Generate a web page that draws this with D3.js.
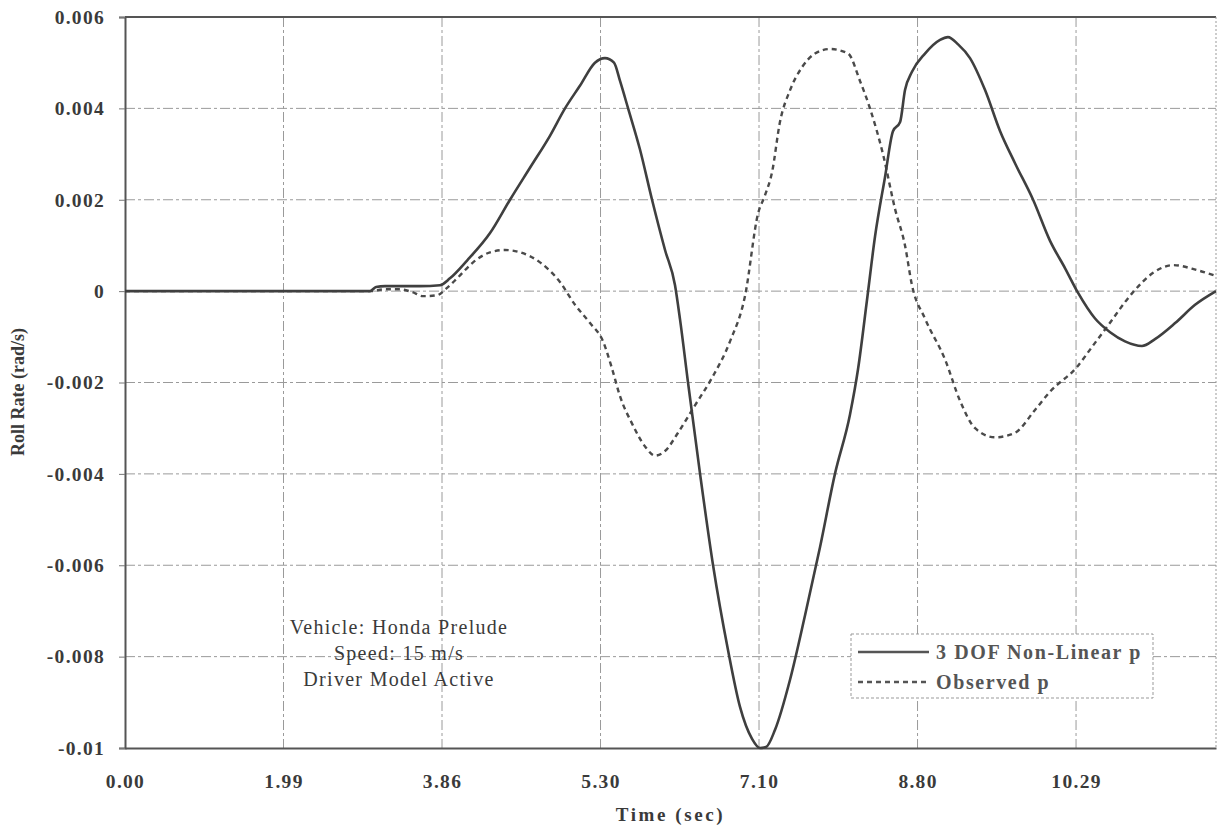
<!DOCTYPE html>
<html><head><meta charset="utf-8">
<script src="https://cdn.jsdelivr.net/npm/d3@7"></script>
<style>body{margin:0;background:#fff}svg{display:block}</style>
</head><body>
<svg id="c" width="1217" height="832"></svg>
<script>
// x in category-axis units (tick i = i-th labelled category)
const xTickLabels = ["0.00","1.99","3.86","5.30","7.10","8.80","10.29"];
const yTicks = [-0.01,-0.008,-0.006,-0.004,-0.002,0,0.002,0.004,0.006];
const yTickLabels = ["-0.01","-0.008","-0.006","-0.004","-0.002","0","0.002","0.004","0.006"];
const seriesNames = ["3 DOF Non-Linear p","Observed p"];
const notes = ["Vehicle: Honda Prelude","Speed: 15 m/s","Driver Model Active"];

const modelX = [0,1.546,1.584,1.640,1.861,1.987,2.050,2.158,2.303,2.429,2.555,2.681,2.776,2.871,2.965,3.028,3.085,3.123,3.174,3.249,3.325,3.407,3.470,3.502,3.552,3.628,3.710,3.804,3.880,3.956,4.006,4.044,4.101,4.196,4.290,4.385,4.479,4.574,4.625,4.681,4.732,4.795,4.845,4.890,4.921,4.965,5.047,5.142,5.192,5.256,5.331,5.426,5.521,5.615,5.729,5.836,5.931,6.013,6.120,6.215,6.309,6.416,6.498,6.625,6.751,6.883];
const modelP = [0,0,0.00009,0.00011,0.00011,0.00013,0.00028,0.00067,0.00127,0.0020,0.0027,0.0034,0.0040,0.0045,0.0050,0.0051,0.0050,0.0046,0.0040,0.0031,0.0020,0.0009,0.00013,-0.00063,-0.0020,-0.0040,-0.0060,-0.00785,-0.0091,-0.0098,-0.0100,-0.00998,-0.0096,-0.0085,-0.0071,-0.0056,-0.0040,-0.0027,-0.0017,-0.0002,0.0012,0.0025,0.0035,0.0037,0.0044,0.0048,0.0052,0.0055,0.00556,0.0054,0.0051,0.0044,0.0035,0.0028,0.0020,0.0011,0.0005,-0.00004,-0.0006,-0.0009,-0.0011,-0.0012,-0.00105,-0.0007,-0.0003,0.0];

const obsX = [0,1.546,1.640,1.735,1.811,1.880,1.968,2.032,2.101,2.196,2.303,2.397,2.492,2.618,2.744,2.839,2.934,3.016,3.073,3.123,3.199,3.281,3.344,3.407,3.489,3.596,3.703,3.817,3.912,3.994,4.038,4.082,4.132,4.196,4.271,4.353,4.448,4.562,4.637,4.700,4.782,4.858,4.921,4.965,5.047,5.174,5.268,5.363,5.489,5.615,5.741,5.836,6.006,6.101,6.202,6.353,6.486,6.612,6.763,6.883];
const obsP = [0,0,0.00004,0.00004,-0.00002,-0.00011,-0.00009,0.00007,0.0003,0.00063,0.00085,0.0009,0.00085,0.00063,0.0002,-0.0003,-0.0007,-0.0011,-0.0017,-0.0023,-0.0029,-0.0034,-0.0036,-0.0035,-0.0031,-0.0025,-0.0019,-0.0011,-0.0001,0.0017,0.0021,0.0026,0.0037,0.0044,0.0049,0.0052,0.0053,0.0052,0.0046,0.0040,0.0030,0.0018,0.0010,0.00013,-0.0006,-0.0015,-0.0024,-0.0030,-0.0032,-0.0031,-0.0026,-0.0022,-0.00166,-0.00122,-0.00075,-0.00005,0.0004,0.00057,0.00046,0.00033];

const svg = d3.select("#c");
const L=125, R=1216, T=17, B=748;
const x = d3.scaleLinear().domain([0,6.883]).range([L,R]);
const y = d3.scaleLinear().domain([-0.01,0.006]).range([B,T]);
const serif = "'Liberation Serif','Times New Roman',serif";

// grid
const g = svg.append("g");
g.selectAll(".hg").data(yTicks.filter(v=>v>-0.01&&v<0.006)).join("line")
  .attr("x1",L).attr("x2",R).attr("y1",d=>y(d)).attr("y2",d=>y(d))
  .attr("stroke","#9a9a9a").attr("stroke-width",1).attr("stroke-dasharray","10,3,3,3");
g.selectAll(".vg").data(d3.range(1,xTickLabels.length)).join("line")
  .attr("x1",d=>x(d)).attr("x2",d=>x(d)).attr("y1",T).attr("y2",B)
  .attr("stroke","#9a9a9a").attr("stroke-width",1).attr("stroke-dasharray","10,3,3,3");

// frame
svg.append("line").attr("x1",L).attr("x2",R).attr("y1",T).attr("y2",T).attr("stroke","#555").attr("stroke-width",2);
svg.append("line").attr("x1",R).attr("x2",R).attr("y1",T).attr("y2",B).attr("stroke","#999").attr("stroke-width",1).attr("stroke-dasharray","2,2");

// axes
const yAxis = d3.axisLeft(y).tickValues(yTicks).tickFormat((d,i)=>yTickLabels[i]).tickSize(6).tickPadding(14);
const ya = svg.append("g").attr("transform",`translate(${L},0)`).call(yAxis);
const xAxis = d3.axisBottom(x).tickValues(d3.range(xTickLabels.length)).tickFormat((d,i)=>xTickLabels[i]).tickSize(0).tickPadding(26);
const xa = svg.append("g").attr("transform",`translate(0,${B})`).call(xAxis);
[ya,xa].forEach(a=>{
  a.select(".domain").attr("stroke","#555").attr("stroke-width",2);
  a.selectAll(".tick line").attr("stroke","#777");
  a.selectAll("text").attr("font-family",serif).attr("font-weight","bold")
   .attr("font-size",19.5).attr("fill","#3a3a3a").style("letter-spacing","1.3px");
});
ya.selectAll(".tick line").attr("x1",-6).attr("x2",0);

// axis titles
svg.append("text").attr("x",(L+R)/2).attr("y",821).attr("text-anchor","middle")
  .attr("font-family",serif).attr("font-weight","bold").attr("font-size",19)
  .style("letter-spacing","2.6px").attr("fill","#3a3a3a").text("Time (sec)");
svg.append("text").attr("transform","translate(24,392) rotate(-90)").attr("text-anchor","middle")
  .attr("font-family",serif).attr("font-weight","bold").attr("font-size",18)
  .attr("fill","#3a3a3a").text("Roll Rate (rad/s)");

// series
const line = d3.line().x(d=>x(d[0])).y(d=>y(d[1])).curve(d3.curveMonotoneX);
svg.append("path").datum(obsX.map((v,i)=>[v,obsP[i]])).attr("d",line)
  .attr("fill","none").attr("stroke","#4a4a4a").attr("stroke-width",2.4).attr("stroke-dasharray","5,4");
svg.append("path").datum(modelX.map((v,i)=>[v,modelP[i]])).attr("d",line)
  .attr("fill","none").attr("stroke","#3f3f3f").attr("stroke-width",2.6);

// annotation
const ann = svg.append("text").attr("text-anchor","middle").attr("font-family",serif)
  .attr("font-size",20).attr("fill","#3a3a3a").style("letter-spacing","1.3px");
notes.forEach((t,i)=>ann.append("tspan").attr("x",399).attr("y",634+i*26).text(t));

// legend
const lg = svg.append("g");
lg.append("rect").attr("x",851).attr("y",634).attr("width",302).attr("height",64)
  .attr("fill","#fff").attr("stroke","#999").attr("stroke-width",1).attr("stroke-dasharray","3,2");
const lgStyles = [{dash:null,w:2.6},{dash:"5,4",w:2.4}];
seriesNames.forEach((n,i)=>{
  const yy = 652 + i*30;
  lg.append("line").attr("x1",858).attr("x2",929).attr("y1",yy).attr("y2",yy)
    .attr("stroke","#555").attr("stroke-width",lgStyles[i].w).attr("stroke-dasharray",lgStyles[i].dash);
  lg.append("text").attr("x",936).attr("y",yy+7).attr("font-family",serif).attr("font-weight","bold")
    .attr("font-size",20).style("letter-spacing","1.6px").attr("fill","#555").text(n);
});
</script>
</body></html>
